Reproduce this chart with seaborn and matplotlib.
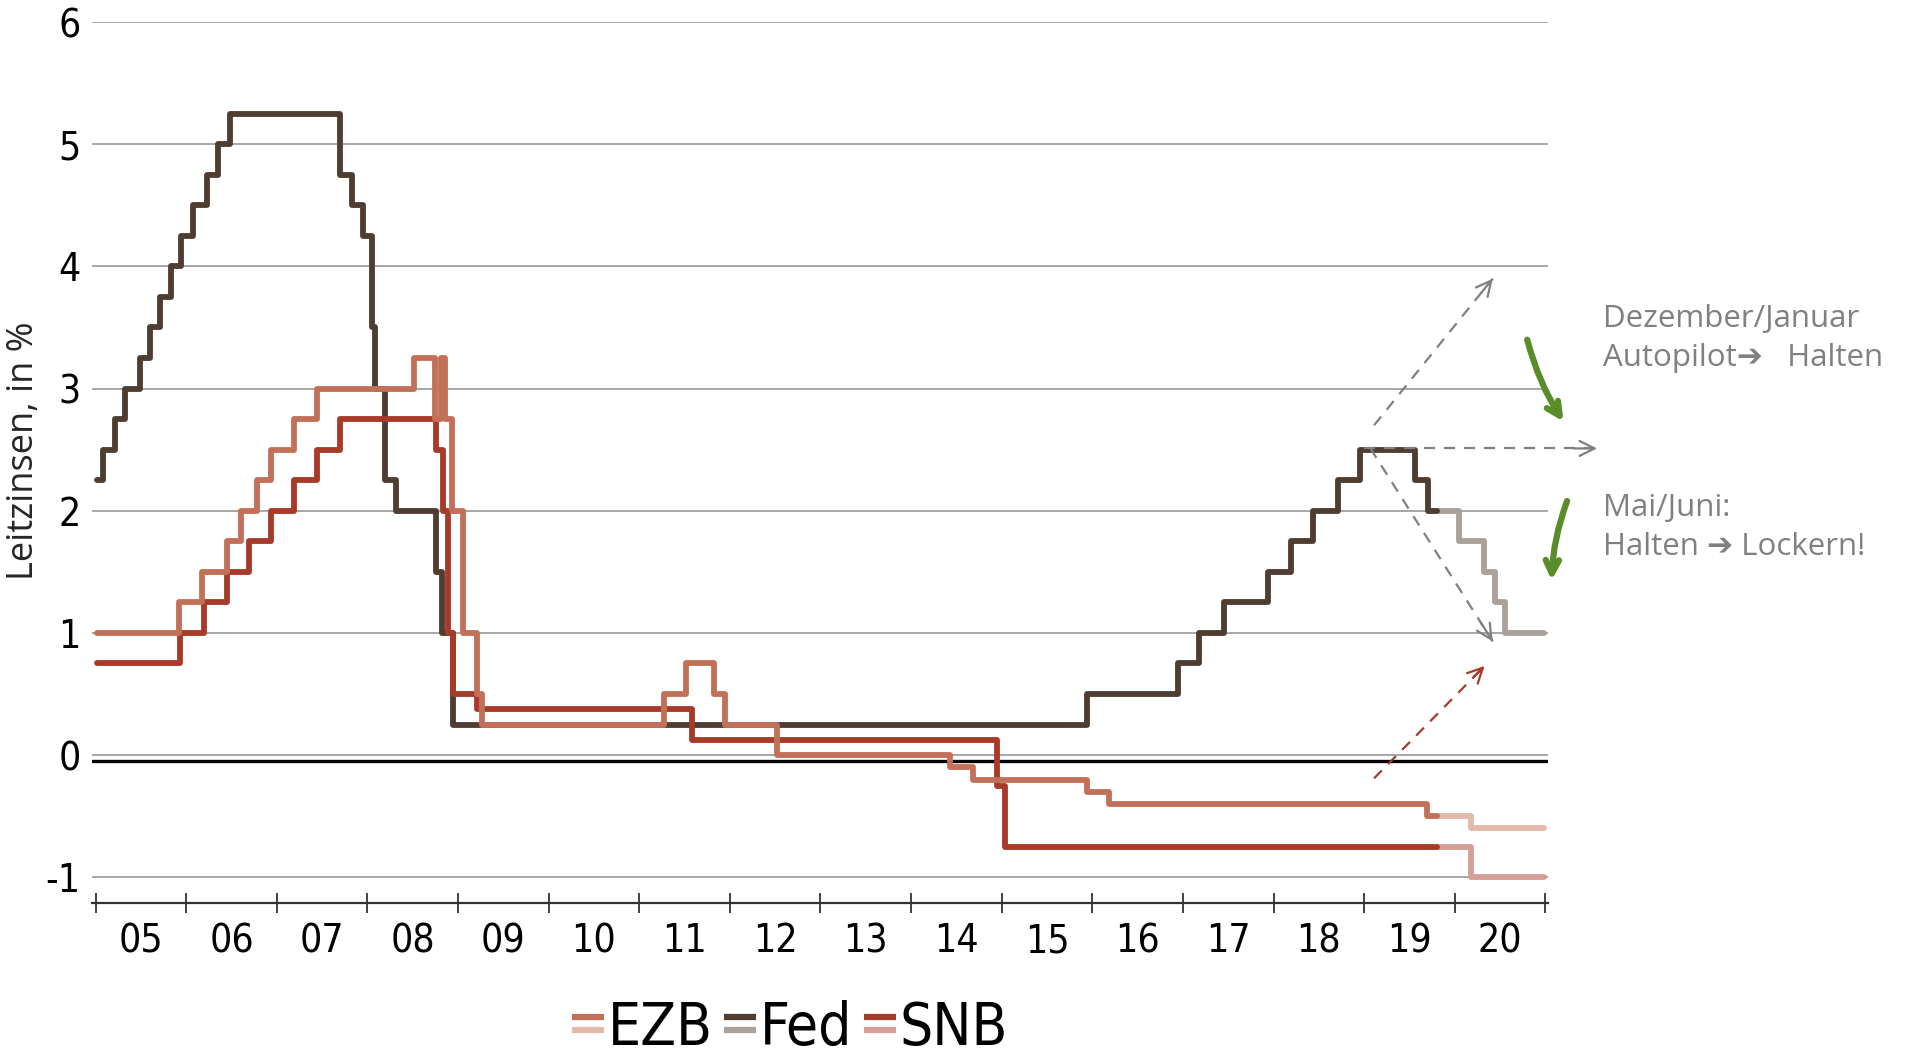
import matplotlib
matplotlib.use("Agg")
import matplotlib.pyplot as plt
from matplotlib.lines import Line2D
import seaborn as sns

# Leitzinsen (step data, decimal year, value in %)
FED_X = [2005.02, 2005.08, 2005.22, 2005.33, 2005.49, 2005.60, 2005.71, 2005.83, 2005.94,
         2006.08, 2006.23, 2006.35, 2006.48, 2007.70, 2007.83, 2007.95, 2008.05, 2008.08,
         2008.19, 2008.32, 2008.76, 2008.82, 2008.95, 2015.94, 2016.95, 2017.18, 2017.45,
         2017.94, 2018.19, 2018.44, 2018.71, 2018.95, 2019.56, 2019.70, 2019.80]
FED_Y = [2.25, 2.5, 2.75, 3.0, 3.25, 3.5, 3.75, 4.0, 4.25,
         4.5, 4.75, 5.0, 5.25, 4.75, 4.5, 4.25, 3.5, 3.0,
         2.25, 2.0, 1.5, 1.0, 0.25, 0.5, 0.75, 1.0, 1.25,
         1.5, 1.75, 2.0, 2.25, 2.5, 2.25, 2.0, 2.0]
FED_FC_X = [2019.80, 2020.05, 2020.32, 2020.44, 2020.55, 2020.99]
FED_FC_Y = [2.0, 1.75, 1.5, 1.25, 1.0, 1.0]

EZB_X = [2005.02, 2005.92, 2006.18, 2006.45, 2006.60, 2006.78, 2006.94, 2007.19, 2007.44,
         2008.51, 2008.75, 2008.81, 2008.86, 2008.93, 2009.06, 2009.21, 2009.26, 2011.27,
         2011.52, 2011.83, 2011.95, 2012.52, 2014.43, 2014.68, 2015.94, 2016.19, 2019.69,
         2019.80]
EZB_Y = [1.0, 1.25, 1.5, 1.75, 2.0, 2.25, 2.5, 2.75, 3.0,
         3.25, 2.75, 3.25, 2.75, 2.0, 1.0, 0.5, 0.25, 0.5,
         0.75, 0.5, 0.25, 0.0, -0.1, -0.2, -0.3, -0.4, -0.5,
         -0.5]
EZB_FC_X = [2019.80, 2020.18, 2020.99]
EZB_FC_Y = [-0.5, -0.6, -0.6]

SNB_X = [2005.02, 2005.93, 2006.20, 2006.45, 2006.69, 2006.94, 2007.19, 2007.44, 2007.70,
         2008.76, 2008.84, 2008.89, 2008.95, 2009.21, 2011.58, 2014.95, 2015.04, 2019.80]
SNB_Y = [0.75, 1.0, 1.25, 1.5, 1.75, 2.0, 2.25, 2.5, 2.75,
         2.5, 2.0, 1.0, 0.5, 0.375, 0.125, -0.25, -0.75, -0.75]
SNB_FC_X = [2019.80, 2020.18, 2020.99]
SNB_FC_Y = [-0.75, -1.0, -1.0]

YEAR_LABELS = ["05", "06", "07", "08", "09", "10", "11", "12", "13", "14", "15", "16",
               "17", "18", "19", "20"]
Y_TICKS = [-1, 0, 1, 2, 3, 4, 5, 6]

COLORS = {
    "EZB": ("#c27158", "#e3b9a8"),
    "Fed": ("#4f3d31", "#aaa19b"),
    "SNB": ("#a73a28", "#d59e96"),
}

sns.set_theme(style="white")
TEXT_FONT = ["Open Sans", "DejaVu Sans"]
plt.rcParams["font.family"] = ["DejaVu Sans"]
plt.rcParams["font.stretch"] = "condensed"

fig = plt.figure(figsize=(19.19, 10.54), dpi=100)
ax = fig.add_axes([0.0479, 0.1433, 0.7588, 0.8358])

series = [
    ("Fed", FED_X, FED_Y, FED_FC_X, FED_FC_Y),
    ("SNB", SNB_X, SNB_Y, SNB_FC_X, SNB_FC_Y),
    ("EZB", EZB_X, EZB_Y, EZB_FC_X, EZB_FC_Y),
]
for name, x, y, fx, fy in series:
    dark, light = COLORS[name]
    sns.lineplot(x=fx, y=fy, ax=ax, color=light, lw=4.2, drawstyle="steps-post",
                 estimator=None, sort=False)
    sns.lineplot(x=x, y=y, ax=ax, color=dark, lw=4.2, drawstyle="steps-post",
                 estimator=None, sort=False)

ax.set_xlim(2004.96, 2021.03)
ax.set_ylim(-1.21, 6.0)

# gridlines and zero line
for v in Y_TICKS:
    ax.axhline(v, color="#8f8f8f", lw=1.1, zorder=0)
ax.axhline(-0.045, color="black", lw=2.4, zorder=1)

for s in ["top", "right", "left"]:
    ax.spines[s].set_visible(False)
ax.spines["bottom"].set_color("#333333")
ax.spines["bottom"].set_linewidth(1.6)

ax.set_yticks(Y_TICKS)
ax.set_yticklabels([str(v) for v in Y_TICKS])
ax.tick_params(axis="y", length=0, pad=8, labelsize=28, labelcolor="black")

ax.set_xticks(list(range(2005, 2022)))
ax.set_xticklabels([])
ax.set_xticks([2005.5 + i for i in range(len(YEAR_LABELS))], minor=True)
ax.set_xticklabels(YEAR_LABELS, minor=True)
ax.tick_params(axis="x", which="major", direction="inout", length=14, width=1.3,
               color="#333333", bottom=True)
ax.tick_params(axis="x", which="minor", length=0, pad=14, labelsize=28, labelcolor="black")

ax.set_xlabel("")
ax.set_ylabel("Leitzinsen, in %", fontsize=26, family=TEXT_FONT, stretch="normal")
ax.yaxis.set_label_coords(-0.0346, 0.513)

# scenario arrows (dashed)
def dashed_arrow(start, end, color):
    ax.plot([start[0], end[0]], [start[1], end[1]], color=color, lw=1.6,
            linestyle=(0, (5, 4)), clip_on=False)
    fx = start[0] + (end[0] - start[0]) * 0.9
    fy = start[1] + (end[1] - start[1]) * 0.9
    ax.annotate("", xy=end, xytext=(fx, fy), annotation_clip=False,
                arrowprops=dict(arrowstyle="->,head_length=0.9,head_width=0.45",
                                color=color, lw=1.6, shrinkA=0, shrinkB=0))

dashed_arrow((2019.11, 2.70), (2020.42, 3.90), "#808080")
dashed_arrow((2019.0, 2.51), (2021.57, 2.51), "#808080")
dashed_arrow((2019.07, 2.51), (2020.42, 0.93), "#808080")
dashed_arrow((2019.11, -0.19), (2020.33, 0.73), "#a73a28")

# green hand-drawn arrows
for start, end, rad in [((2020.80, 3.40), (2021.20, 2.73), 0.08),
                        ((2021.24, 2.08), (2021.07, 1.43), 0.08)]:
    ax.annotate("", xy=end, xytext=start, annotation_clip=False,
                arrowprops=dict(arrowstyle="->,head_length=0.8,head_width=0.4",
                                color="#5b8c2a", lw=4.5, shrinkA=0, shrinkB=0,
                                connectionstyle=f"arc3,rad={rad}"))

note_kw = dict(fontsize=22.5, color="#808080", family=TEXT_FONT, stretch="normal",
               va="center", ha="left", annotation_clip=False)
ax.annotate("Dezember/Januar", xy=(2021.64, 3.57), **note_kw)
ax.annotate("Autopilot\u2794   Halten", xy=(2021.64, 3.25), **note_kw)
ax.annotate("Mai/Juni:", xy=(2021.64, 2.02), **note_kw)
ax.annotate("Halten \u2794 Lockern!", xy=(2021.64, 1.70), **note_kw)

# legend with two-tone handles, laid out from measured text widths
W, H = 1919.0, 1054.0
renderer = fig.canvas.get_renderer()
handle_w, gap_text, gap_item = 32, 4, 11
texts = []
for name in COLORS:
    t = fig.text(0, 1 - 1045 / H, name, fontsize=42, color="black",
                 ha="left", va="baseline")
    texts.append((name, t, t.get_window_extent(renderer).width))
total = sum(handle_w + gap_text + w for _, _, w in texts) + gap_item * (len(texts) - 1)
x = 790 - total / 2
for name, t, w in texts:
    dark, light = COLORS[name]
    for yy, col in [(1017.0, dark), (1029.5, light)]:
        fig.add_artist(Line2D([x / W, (x + handle_w) / W], [1 - yy / H, 1 - yy / H],
                              color=col, lw=4.5, solid_capstyle="butt",
                              transform=fig.transFigure))
    t.set_x((x + handle_w + gap_text) / W)
    x += handle_w + gap_text + w + gap_item

fig.savefig("out.png", dpi=100)
